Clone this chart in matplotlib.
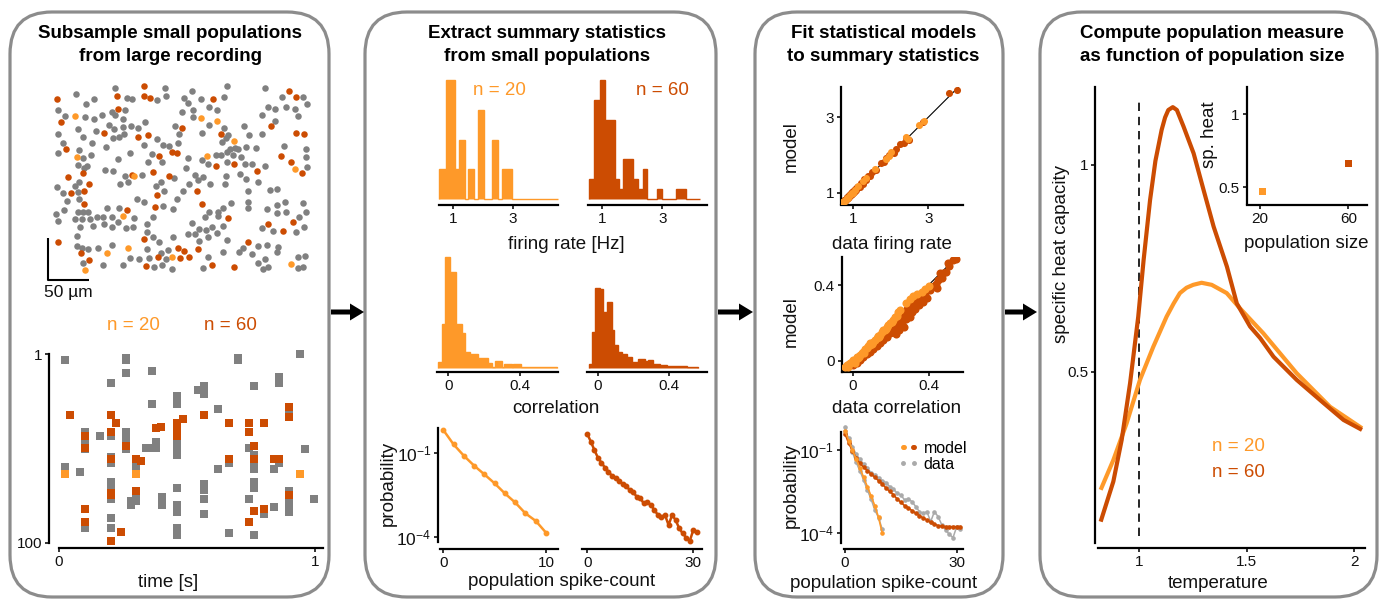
import numpy as np
import matplotlib
matplotlib.use("Agg")
import matplotlib.pyplot as plt
from matplotlib.patches import FancyBboxPatch, FancyArrow
from matplotlib.lines import Line2D
from matplotlib.legend_handler import HandlerTuple

W, H = 1383, 599
LIGHT = "#fe9929"
DARK = "#cc4c02"
GRAY = "#808080"
LGRAY = "#aaaaaa"

# ---------------- data ----------------
# neuron positions (recording field, 125 units = 50 um), y grows downward
MAP_GRAY = [(345,265),(495,265),(680,258),(795,265),(228,283),(575,272),(380,295),(397,297),(282,297),(497,288),
    (470,300),(553,295),(602,297),(672,292),(845,290),(910,290),(258,312),(565,310),(627,320),(175,330),(375,330),
    (335,335),(545,335),(578,330),(652,330),(803,320),(825,327),(858,320),(885,327),(920,312),(195,348),(255,352),
    (282,357),(307,345),(345,345),(370,357),(435,365),(580,352),(785,345),(895,348),(327,375),(343,387),(368,380),
    (393,378),(525,377),(628,375),(673,385),(732,378),(825,362),(233,388),(288,393),(175,402),(415,385),(373,402),
    (538,402),(685,405),(607,400),(748,405),(785,402),(188,428),(250,412),(276,430),(317,440),(338,415),(357,410),
    (432,435),(470,418),(490,435),(508,438),(533,428),(677,413),(665,425),(690,448),(715,448),(737,442),(767,445),
    (853,438),(917,448),(238,450),(175,460),(272,465),(390,460),(455,463),(648,465),(663,465),(680,455),(700,465),
    (722,470),(705,445),(355,478),(250,473),(445,487),(485,485),(565,475),(605,480),(625,492),(918,470),(680,485),
    (735,493),(757,493),(795,497),(233,495),(260,498),(315,510),(338,513),(253,505),(920,500),(375,527),(425,525),
    (557,505),(585,525),(593,540),(610,530),(720,522),(678,528),(738,537),(522,535),(383,545),(360,552),(483,545),
    (568,553),(236,545),(225,558),(172,562),(188,578),(235,577),(467,558),(493,572),(550,572),(630,553),(675,553),
    (773,547),(810,570),(830,567),(743,572),(202,603),(238,597),(410,598),(432,607),(530,597),(490,617),(693,610),
    (745,605),(855,607),(830,615),(910,610),(193,630),(233,635),(248,635),(265,635),(320,625),(358,625),(520,628),
    (628,635),(655,635),(670,625),(743,625),(800,627),(830,640),(857,635),(918,637),(168,643),(335,650),(310,652),
    (290,652),(173,662),(225,658),(247,657),(270,658),(313,673),(355,665),(402,653),(460,652),(615,652),(655,648),
    (898,652),(240,680),(278,678),(335,682),(377,683),(400,680),(440,672),(575,668),(598,688),(617,690),(635,680),
    (668,678),(785,683),(820,693),(887,697),(912,682),(442,697),(565,703),(585,703),(652,700),(230,708),(460,712),
    (520,712),(625,712),(478,727),(680,720),(598,722),(230,738),(265,747),(293,745),(335,735),(773,737),(800,735),
    (833,740),(247,745),(440,748),(505,750),(483,760),(728,743),(718,755),(670,757),(830,757),(893,770),(915,767),
    (248,790),(390,773),(418,777),(447,773),(497,778),(625,770),(755,763),(795,778),(775,790),(308,795),(370,795),
    (463,802),(485,795),(515,808),(610,805),(788,808),(805,802),(893,805),(910,802)]
MAP_N20 = [(226,348),(603,355),(650,362),(702,423),(230,470),(622,467),(885,507),(402,528),(370,648),(320,760),
    (383,745),(517,770),(873,792),(255,810)]
MAP_N60 = [(432,258),(868,272),(352,287),(432,287),(450,295),(172,297),(640,298),(888,290),(355,327),(182,366),
    (547,383),(813,378),(312,398),(413,412),(445,405),(662,402),(888,398),(912,402),(197,448),(517,457),(532,460),
    (478,467),(648,497),(702,492),(842,467),(873,485),(248,518),(205,530),(907,518),(770,513),(397,525),(460,517),
    (507,527),(268,552),(252,572),(212,580),(470,585),(590,572),(252,613),(464,622),(607,613),(382,630),(683,655),
    (878,665),(805,672),(848,693),(432,718),(175,727),(745,725),(243,758),(533,745),(553,752),(593,748),(268,780),
    (540,773),(568,770),(473,770),(438,798),(636,795),(703,802)]
SCALE_UNITS = 125  # 50 um

# raster: (time [s], neuron index)
SPIKES_GRAY = [(0.022,4),(0.022,60),(0.022,61),(0.081,63),(0.101,42),(0.101,43),(0.101,46),(0.101,48),(0.101,51),
    (0.101,92),(0.161,44),(0.204,16),(0.204,44),(0.204,55),(0.204,58),(0.204,68),(0.204,70),(0.204,71),(0.204,77),
    (0.204,87),(0.204,92),(0.262,3),(0.262,4),(0.262,11),(0.262,42),(0.262,46),(0.262,51),(0.282,78),(0.282,80),
    (0.301,77),(0.301,78),(0.301,59),(0.301,61),(0.340,50),(0.360,50),(0.379,50),(0.379,47),(0.362,10),(0.362,27),
    (0.401,76),(0.401,80),(0.461,23),(0.461,25),(0.461,27),(0.461,42),(0.461,46),(0.461,49),(0.461,51),(0.461,54),
    (0.461,71),(0.461,80),(0.461,84),(0.461,92),(0.461,94),(0.461,96),(0.542,20),(0.564,18),(0.564,22),(0.564,69),
    (0.564,72),(0.564,77),(0.564,85),(0.619,30),(0.619,61),(0.662,58),(0.662,95),(0.697,3),(0.697,4),(0.740,50),
    (0.740,77),(0.760,18),(0.760,54),(0.760,59),(0.760,61),(0.760,68),(0.760,70),(0.760,71),(0.760,96),(0.801,85),
    (0.840,61),(0.860,58),(0.840,81),(0.860,13),(0.860,16),(0.899,31),(0.899,33),(0.899,73),(0.899,77),(0.899,80),
    (0.899,84),(0.942,1),(0.961,51),(0.995,77)]
SPIKES_N60 = [(0.044,33),(0.101,44),(0.101,50),(0.101,82),(0.101,89),(0.204,33),(0.221,37),(0.204,42),(0.204,56),
    (0.204,74),(0.204,75),(0.204,99),(0.240,94),(0.262,49),(0.301,73),(0.301,56),(0.321,57),(0.379,40),(0.399,39),
    (0.461,37),(0.461,40),(0.461,44),(0.483,35),(0.564,33),(0.662,37),(0.662,56),(0.740,37),(0.740,42),(0.740,89),
    (0.760,49),(0.760,56),(0.760,83),(0.801,37),(0.801,82),(0.840,56),(0.860,56),(0.899,29),(0.899,34),(0.899,75)]
SPIKES_N20 = [(0.022,64),(0.301,64),(0.942,64)]

# firing rate histograms
FR20_EDGES = [0.556,0.778,1.078,1.222,1.411,1.522,1.722,1.833,2.044,2.322,2.511,2.633,2.989,4.522]
FR20_COUNTS = [1,4,1,2,0,1,0,3,0,2,0,1,0]
FR60_EDGES = [0.567,0.733,0.922,1.089,1.422,1.567,1.7,2.033,2.2,2.344,2.5,2.811,2.978,3.456,3.789,4.256]
FR60_COUNTS = [2,10,12,8,2,1,4,2,1,3,0,1,0,1,0]

# correlation histograms
CORR20_EDGES = [-0.056,-0.033,-0.019,0.009,0.041,0.078,0.093,0.121,0.167,0.223,0.242,0.260,0.298,0.311,0.353,
    0.363,0.404,0.605]
CORR20_H = [20,132,335,290,132,105,48,42,30,15,5,22,5,13,5,13,3]
CORR60_EDGES = [-0.047,-0.030,-0.015,0.013,0.032,0.050,0.078,0.093,0.115,0.134,0.162,0.193,0.227,0.264,0.283,
    0.311,0.348,0.385,0.441,0.497,0.562]
CORR60_H = [12,108,242,238,170,198,115,70,48,42,35,20,28,22,25,13,10,8,7,4]

# population spike-count distributions
P20_DATA = [0.69,0.21,0.082,0.036,0.0175,0.0083,0.0036,0.0017,0.00069,0.00037,0.00014]
P60_DATA = [0.497,0.263,0.132,0.0698,0.0461,0.0305,0.0219,0.0153,0.0126,0.0101,0.00787,0.00667,0.00479,0.00394,
    0.00275,0.0024,0.00158,0.00172,0.00138,0.00091,0.0006,0.000525,0.0006,0.000263,0.0006,0.0004,0.0002,
    0.000132,0.000092,0.00007,0.000174,0.000143]
P20_MODEL = [0.497,0.217,0.1,0.0474,0.0225,0.0104,0.00479,0.00221,0.00099,0.000377,0.0001]
P60_MODEL = [0.377,0.174,0.0946,0.0515,0.0331,0.0238,0.018,0.0137,0.0104,0.00787,0.00597,0.00429,0.00325,
    0.00247,0.00172,0.00131,0.00099,0.000817,0.000655,0.000525,0.000433,0.000356,0.000302,0.000249,0.000217,
    0.000189,0.000179,0.000174,0.000174,0.000174,0.000174,0.000174]

# model fit: firing rates (data, model)
FR20_DATA = [0.72,0.80,0.85,0.88,0.93,0.97,1.02,1.05,1.15,1.28,1.36,1.60,1.88,1.95,2.02,2.40,2.45,2.75,2.88,0.76]
FR20_MOD = [0.74,0.78,0.87,0.86,0.95,0.98,1.00,1.07,1.17,1.30,1.40,1.64,1.90,1.98,2.08,2.47,2.43,2.80,2.91,0.79]
FR60_DATA = [0.65,0.70,0.75,0.78,0.80,0.82,0.84,0.86,0.88,0.89,0.90,0.91,0.93,0.95,0.96,0.98,0.99,1.00,1.02,1.03,
    1.05,1.06,1.07,1.08,1.12,1.18,1.22,1.27,1.31,1.36,1.40,1.45,1.52,1.62,1.75,1.82,1.88,1.97,2.08,2.15,2.25,
    2.36,2.42,2.48,2.85,3.56,3.77]
FR60_MOD = [0.66,0.72,0.74,0.80,0.79,0.84,0.83,0.88,0.87,0.92,0.89,0.93,0.95,0.94,0.98,0.97,1.02,0.99,1.05,1.01,
    1.07,1.04,1.10,1.06,1.15,1.16,1.25,1.24,1.35,1.33,1.43,1.44,1.55,1.60,1.79,1.80,1.92,2.00,2.06,2.17,2.28,
    2.32,2.45,2.40,2.88,3.65,3.72]

# model fit: correlations (data, model)
C20 = [(-0.032,-0.023),(-0.014,-0.014),(0.004,0.004),(0.021,0.018),(0.039,0.030),(0.056,0.048),(0.074,0.065),
    (0.092,0.083),(0.109,0.100),(0.127,0.118),(0.144,0.136),(0.153,0.153),(0.171,0.165),(0.188,0.188),
    (0.206,0.206),(0.224,0.232),(0.241,0.259),(0.250,0.268),(0.282,0.303),(0.303,0.324),(0.320,0.341),
    (0.338,0.352),(0.364,0.364),(0.382,0.377),(0.403,0.394),(-0.023,-0.032),(-0.005,-0.005),(0.012,0.000),
    (0.030,0.012),(0.048,0.039),(0.065,0.060),(0.083,0.077),(0.118,0.109),(0.136,0.132),(0.162,0.162),
    (0.180,0.180),(0.197,0.197),(0.215,0.215),(0.232,0.236),(-0.040,-0.035),(-0.018,-0.019),
    (0.010,-0.012),(0.035,0.022),(0.060,0.040),(0.100,0.090),(0.140,0.125),(0.175,0.170),(0.090,0.095)]
C60 = [(-0.040,-0.032),(-0.023,-0.023),(-0.005,-0.011),(0.012,0.004),(0.030,0.018),(0.048,0.030),(0.065,0.048),
    (0.083,0.060),(0.100,0.077),(0.118,0.092),(0.136,0.106),(0.153,0.127),(0.171,0.141),(0.188,0.162),
    (0.206,0.183),(0.215,0.197),(0.224,0.171),(0.232,0.215),(0.241,0.188),(0.250,0.232),(0.259,0.206),
    (0.268,0.250),(0.276,0.224),(0.285,0.271),(0.294,0.241),(0.303,0.285),(0.312,0.259),(0.320,0.303),
    (0.329,0.276),(0.338,0.320),(0.347,0.294),(0.356,0.338),(0.370,0.312),(0.382,0.356),(0.394,0.334),
    (0.408,0.373),(0.417,0.391),(0.429,0.394),(0.440,0.408),(0.452,0.426),(0.465,0.444),(0.475,0.465),
    (0.444,0.382),(0.197,0.144),(0.180,0.127),(0.162,0.109),(0.144,0.092),(0.127,0.077),(0.109,0.063),
    (0.092,0.048),(0.074,0.035),(0.056,0.018),(0.039,0.004),(0.021,-0.011),(0.004,-0.023),(0.215,0.153),
    (0.236,0.176),(0.259,0.188),(0.282,0.218),(0.303,0.232),(0.268,0.180),(0.246,0.162),(0.229,0.141),
    (0.51,0.50),(0.50,0.515),(0.53,0.53),(0.545,0.54),(0.49,0.47),(0.462,0.462),(0.471,0.436)]

# specific heat vs temperature
T60 = [0.82,0.879,0.918,0.957,0.995,1.02,1.05,1.075,1.104,1.12,1.135,1.156,1.175,1.206,1.253,1.299,1.346,1.408,
    1.454,1.516,1.563,1.625,1.733,1.858,1.951,2.037]
C60_HEAT = [0.137,0.234,0.335,0.472,0.633,0.77,0.915,1.01,1.085,1.115,1.133,1.14,1.133,1.093,1.028,0.94,0.851,
    0.754,0.665,0.609,0.581,0.536,0.48,0.424,0.383,0.359]
T20 = [0.82,0.879,0.941,1.003,1.065,1.127,1.16,1.189,1.22,1.251,1.29,1.337,1.407,1.469,1.577,1.733,1.888,2.037]
C20_HEAT = [0.214,0.286,0.375,0.48,0.56,0.633,0.665,0.69,0.703,0.71,0.715,0.71,0.69,0.653,0.593,0.496,0.415,
    0.363]
T_CRIT = 1.0
POP_SIZES = [21, 60]
SP_HEAT = [0.47, 0.665]

# ---------------- style ----------------
plt.rcParams['font.family'] = ['Liberation Sans', 'DejaVu Sans']
plt.rcParams['mathtext.fontset'] = 'custom'
plt.rcParams['mathtext.rm'] = 'Liberation Sans'
plt.rcParams['mathtext.default'] = 'regular'
plt.rcParams['axes.facecolor'] = 'none'

TICK = 11
LAB = 13.5

fig = plt.figure(figsize=(W / 100, H / 100), dpi=100)


def add_ax(x0, y0, x1, y1):
    return fig.add_axes([x0 / W, 1 - y1 / H, (x1 - x0) / W, (y1 - y0) / H])


def text(x, y, s, **kw):
    kw.setdefault('fontsize', LAB)
    kw.setdefault('color', '#111111')
    fig.text(x / W, 1 - y / H, s, ha='center', va='center', **kw)


def spines(ax, left=None, bottom=None):
    for s in ('top', 'right'):
        ax.spines[s].set_visible(False)
    for s, off in (('left', left), ('bottom', bottom)):
        if off is None:
            ax.spines[s].set_visible(False)
        else:
            ax.spines[s].set_position(('outward', off * 0.72))
            ax.spines[s].set_linewidth(1.6)
    if left is None:
        ax.set_yticks([])
    if bottom is None:
        ax.set_xticks([])
    ax.tick_params(labelsize=TICK, length=3, width=1.2, pad=2, colors='#111111')


# background boxes and arrows
bg = fig.add_axes([0, 0, 1, 1])
bg.set_xlim(0, W)
bg.set_ylim(H, 0)
bg.axis('off')
for x0, x1 in [(10, 329), (365, 716), (755, 1003), (1040, 1377)]:
    bg.add_patch(FancyBboxPatch((x0, 12), x1 - x0, 585, boxstyle='round,pad=0,rounding_size=42',
                                fc='white', ec='#8c8c8c', lw=2.3))
for x0, x1 in [(331, 364), (718, 753), (1005, 1037)]:
    bg.add_patch(FancyArrow(x0, 312, x1 - x0, 0, width=5, head_width=17, head_length=14,
                            length_includes_head=True, color='black', lw=0))

titles = [(170.5, "Subsample small populations", "from large recording"),
          (547.5, "Extract summary statistics", "from small populations"),
          (883.5, "Fit statistical models", "to summary statistics"),
          (1212, "Compute population measure", "as function of population size")]
for x, l1, l2 in titles:
    text(x, 33.3, l1, fontweight='bold', color='black')
    text(x, 56.7, l2, fontweight='bold', color='black')

# ---- panel 1: neuron map ----
ax = add_ax(40, 80, 320, 300)
ax.set_xlim(120, 960)
ax.set_ylim(900, 240)
ax.axis('off')
for pts, c in [(MAP_GRAY, GRAY), (MAP_N60, DARK), (MAP_N20, LIGHT)]:
    xy = np.array(pts)
    ax.scatter(xy[:, 0], xy[:, 1], s=22, c=c, linewidths=0)
x0, y0 = 143, 840
ax.plot([x0, x0, x0 + SCALE_UNITS], [y0 - SCALE_UNITS, y0, y0], color='black', lw=1.5,
        solid_capstyle='butt', clip_on=False)
text(68, 293, "50 µm", fontsize=12.5)

text(133, 325, "n = 20", color=LIGHT)
text(230, 325, "n = 60", color=DARK)

# raster
ax = add_ax(59, 354, 323, 543)
for pts, c in [(SPIKES_GRAY, GRAY), (SPIKES_N60, DARK), (SPIKES_N20, LIGHT)]:
    tn = np.array(pts)
    ax.scatter(tn[:, 0], tn[:, 1], marker='s', s=26, c=c, linewidths=0, clip_on=False)
ax.set_xlim(0, 1.03)
ax.set_ylim(100, 1)
spines(ax, left=10, bottom=5)
ax.spines['left'].set_bounds(1, 100)
ax.set_yticks([1, 100])
ax.set_xticks([0, 1])
text(168, 582.7, "time [s]")

# ---- panel 2: histograms ----
for (x0, x1, xl), edges, counts, c, top in [
        ((439, 558, (0.543, 4.51)), FR20_EDGES, FR20_COUNTS, LIGHT, 4),
        ((588, 707, (0.523, 4.49)), FR60_EDGES, FR60_COUNTS, DARK, 12)]:
    ax = add_ax(x0, 80, x1, 199)
    ax.stairs(counts, edges, fill=True, color=c, edgecolor=c, lw=1.0, clip_on=False)
    ax.set_xlim(*xl)
    ax.set_ylim(0, top)
    spines(ax, bottom=6)
    ax.set_xticks([1, 3])
text(499, 90, "n = 20", color=LIGHT)
text(662, 90, "n = 60", color=DARK)
text(566, 245, "firing rate [Hz]")

for (x0, x1, xl), edges, h, c in [
        ((436.7, 558.3, (-0.065, 0.614)), CORR20_EDGES, CORR20_H, LIGHT),
        ((586.7, 706.7, (-0.061, 0.609)), CORR60_EDGES, CORR60_H, DARK)]:
    ax = add_ax(x0, 256.7, x1, 368.3)
    ax.stairs(h, edges, fill=True, color=c, edgecolor=c, lw=1.0, clip_on=False)
    ax.set_xlim(*xl)
    ax.set_ylim(0, 335)
    spines(ax, bottom=3.4)
    ax.set_xticks([0, 0.4], ['0', '0.4'])
text(556, 408.3, "correlation")

# spike-count distributions
YL = (10 ** -4.18, 10 ** -0.1)
EXP_LABELS = ['10$^{-1}$', '10$^{-4}$']
ax = add_ax(440, 428.3, 558, 541.7)
ax.semilogy(range(len(P20_DATA)), P20_DATA, color=LIGHT, lw=1.8, marker='o', ms=3.2, clip_on=False)
ax.set_xlim(-0.32, 11.17)
ax.set_ylim(*YL)
spines(ax, left=1.7, bottom=7.3)
ax.set_yticks([1e-1, 1e-4], EXP_LABELS)
ax.minorticks_off()
ax.tick_params(axis='y', labelsize=12.5)
ax.set_xticks([0, 10])

ax = add_ax(582.3, 428.3, 701.7, 541.7)
ax.semilogy(range(len(P60_DATA)), P60_DATA, color=DARK, lw=1.8, marker='o', ms=3.2, clip_on=False)
ax.set_xlim(-1.415, 32.38)
ax.set_ylim(*YL)
spines(ax, bottom=7.3)
ax.minorticks_off()
ax.set_yticks([])
ax.set_xticks([0, 30])
text(388.3, 483.3, "probability", rotation=90)
text(561.7, 581.7, "population spike-count")

# ---- panel 3: model fits ----
ax = add_ax(841, 87, 962.7, 204)
ax.plot([0.7, 3.8], [0.7, 3.8], color='black', lw=0.8, zorder=1)
ax.scatter(FR60_DATA, FR60_MOD, s=26, c=DARK, linewidths=0, zorder=2)
ax.scatter(FR20_DATA, FR20_MOD, s=26, c=LIGHT, linewidths=0, zorder=3)
ax.set_xlim(0.69, 3.91)
ax.set_ylim(0.70, 3.80)
spines(ax, left=0, bottom=1)
ax.set_xticks([1, 3])
ax.set_yticks([1, 3])
text(791.7, 146.7, "model", rotation=90)
text(892, 245, "data firing rate")

ax = add_ax(841.7, 256.7, 962.7, 371.7)
ax.plot([-0.05, 0.56], [-0.05, 0.56], color='black', lw=0.8, zorder=1)
c60 = np.array(C60)
c20 = np.array(C20)
ax.scatter(c60[:, 0], c60[:, 1], s=34, c=DARK, linewidths=0, zorder=2)
ax.scatter(c20[:, 0], c20[:, 1], s=34, c=LIGHT, linewidths=0, zorder=3)
ax.set_xlim(-0.058, 0.58)
ax.set_ylim(-0.058, 0.55)
spines(ax, left=0, bottom=0)
ax.set_xticks([0, 0.4], ['0', '0.4'])
ax.set_yticks([0, 0.4], ['0', '0.4'])
text(791.7, 322, "model", rotation=90)
text(897, 408.3, "data correlation")

ax = add_ax(844.3, 431.7, 962.7, 543.3)
ax.semilogy(range(len(P60_DATA)), P60_DATA, color=LGRAY, lw=1.1, marker='o', ms=2.3, clip_on=False)
ax.semilogy(range(len(P20_DATA)), P20_DATA, color=LGRAY, lw=1.1, marker='o', ms=2.3, clip_on=False)
ax.semilogy(range(len(P60_MODEL)), P60_MODEL, color=DARK, lw=1.2, marker='o', ms=2.3, clip_on=False)
ax.semilogy(range(len(P20_MODEL)), P20_MODEL, color=LIGHT, lw=1.2, marker='o', ms=2.3, clip_on=False)
ax.set_xlim(-0.19, 31.6)
ax.set_ylim(10 ** -4.36, 10 ** -0.341)
spines(ax, left=3.3, bottom=6)
ax.minorticks_off()
ax.set_yticks([1e-1, 1e-4], EXP_LABELS)
ax.tick_params(axis='y', labelsize=12.5)
ax.set_xticks([0, 30])
h_model = (Line2D([], [], color=LIGHT, marker='o', ms=2.5, ls=''),
           Line2D([], [], color=DARK, marker='o', ms=2.5, ls=''))
h_data = Line2D([], [], color=LGRAY, marker='o', ms=2.5, ls='')
ax.legend([h_model, h_data], ['model', 'data'], handler_map={tuple: HandlerTuple(ndivide=None, pad=0.0)},
          numpoints=2, frameon=False, fontsize=11.5, handlelength=1.3, handletextpad=0.3,
          labelspacing=0.05, borderpad=0, loc='upper right',
          bbox_to_anchor=(975 / W, 1 - 433 / H), bbox_transform=fig.transFigure)
text(791.7, 485, "probability", rotation=90)
text(883.8, 583.3, "population spike-count")

# ---- panel 4: specific heat ----
ax = add_ax(1098.3, 87.3, 1365, 542.7)
ylo, yhi = 0.086, 1.188
ax.axvline(T_CRIT, ymin=(0.102 - ylo) / (yhi - ylo), ymax=(1.157 - ylo) / (yhi - ylo),
           color='black', lw=1.2, ls=(0, (5, 3.5)))
ax.plot(T20, C20_HEAT, color=LIGHT, lw=3, solid_capstyle='butt', solid_joinstyle='round')
ax.plot(T60, C60_HEAT, color=DARK, lw=3, solid_capstyle='butt', solid_joinstyle='round')
ax.set_xlim(0.809, 2.051)
ax.set_ylim(ylo, yhi)
spines(ax, left=3.3, bottom=5.6)
ax.set_xticks([1, 1.5, 2], ['1', '1.5', '2'])
ax.set_yticks([0.5, 1], ['0.5', '1'])
text(1061.7, 254, "specific heat capacity", rotation=90)
text(1218, 583.3, "temperature")
text(1238.8, 446.7, "n = 20", color=LIGHT)
text(1238.8, 472.7, "n = 60", color=DARK)

ax = add_ax(1247.3, 87.3, 1366.7, 204)
ax.scatter(POP_SIZES, SP_HEAT, marker='s', s=26, c=[LIGHT, DARK], linewidths=0)
ax.set_xlim(14.25, 68.3)
ax.set_ylim(0.386, 1.185)
spines(ax, left=0.5, bottom=1)
ax.set_xticks([20, 60])
ax.set_yticks([0.5, 1], ['0.5', '1'])
text(1210, 135, "sp. heat", rotation=90)
text(1306.7, 243.3, "population size")

fig.savefig("out.png", dpi=100)
